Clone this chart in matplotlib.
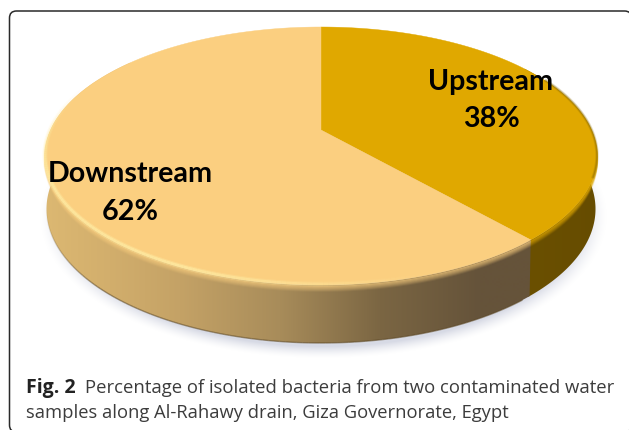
import numpy as np
import matplotlib
matplotlib.use('Agg')
from matplotlib import pyplot as plt
from matplotlib.colors import to_rgb
from matplotlib.patches import FancyBboxPatch, Polygon

labels = ['Upstream', 'Downstream']
shares = [38, 62]
top_colors = ['#E0A800', '#FBCF80']
caption_bold = 'Fig. 2'
caption_1 = 'Percentage of isolated bacteria from two contaminated water'
caption_2 = 'samples along Al-Rahawy drain, Giza Governorate, Egypt'

# horizontal shading of the side walls
up_side_x     = [525, 600]
up_side_col   = ['#6B5000', '#664C00']
down_side_x   = [45, 110, 180, 280, 380, 480, 535]
down_side_col = ['#DCB872', '#D2AE6C', '#C4A266', '#A88C5A', '#7B6643', '#65533A', '#66533A']

W, H   = 629, 430
cx     = 321
top    = dict(cy=156, rx=276, ry=129)
bottom = dict(cy=209, rx=274.5, ry=134)
d      = 0.15   # perspective on the rim
apex_y = 130


def rim(t, cy, rx, ry):
    # t in degrees, clockwise from 12 o'clock, on a circle seen in perspective
    t  = np.radians(t)
    X  = np.sin(t)
    Y  = np.cos(t)
    q  = 1 + d * Y
    return cx + rx * np.sqrt(1 - d**2) * X / q, cy - ry * (Y + d) / q


def rim_xy(t, e):
    return np.column_stack(rim(np.asarray(t, float), **e))


def side_wall(ax, t0, t1, xs, cols):
    t     = np.linspace(t0, t1, 300)
    poly  = np.vstack([rim_xy(t, top), rim_xy(t[::-1], bottom)])
    patch = Polygon(poly, closed=True, fc='none', ec='none', zorder=2)
    ax.add_patch(patch)
    rgb   = np.array([to_rgb(c) for c in cols])
    grid  = np.arange(xs[0], xs[-1] + 1)
    img   = np.column_stack([np.interp(grid, xs, rgb[:, i]) for i in range(3)])[None, :, :]
    im    = ax.imshow(img, extent=(xs[0], xs[-1], H, 0), aspect='auto', zorder=2,
                      interpolation='bilinear')
    im.set_clip_path(patch)


fig = plt.figure(figsize=(W / 100, H / 100), dpi=100)
ax  = fig.add_axes([0, 0, 1, 1])
ax.axis('off')

# frame round the figure and caption, it runs off the right and bottom edges
ax.add_patch(FancyBboxPatch((9.5, 11), 622, 421, boxstyle='round,pad=0,rounding_size=7',
                            fc='white', ec='#2a2a2a', lw=1.1, zorder=0, clip_on=True))

# soft shadow under the pie
yy, xx = np.mgrid[0:H, 0:W]
dist   = np.sqrt(((xx - cx - 2) / 284.0)**2 + ((yy - 216) / 142.0)**2)
alpha  = np.clip((1.0 - dist) / 0.085, 0, 1)**1.5 * 0.9
shadow = np.zeros((H, W, 4))
shadow[..., :3] = to_rgb('#D3D6E2')
shadow[..., 3]  = alpha
ax.imshow(shadow, extent=(0, W, H, 0), aspect='auto', zorder=1)

angles = np.cumsum([0] + shares) * 3.6

# side walls, the seam overlaps a little so no white shows through
side_wall(ax, angles[0] + 50, angles[1] + 0.4, up_side_x, up_side_col)
side_wall(ax, angles[1], angles[2] - 50, down_side_x, down_side_col)

# dark lower edge of the wall, only along the front
t = np.linspace(angles[1] + 2, 262, 120)
for a, b in zip(t[:-1], t[1:]):
    fade = float(np.clip((262 - (a + b) / 2) / 35, 0, 1))
    ax.plot(*rim_xy([a, b], bottom).T, color='#5a4520', lw=1.0, alpha=0.55 * fade, zorder=3,
            solid_capstyle='butt')

# rounded edge: top colour bleeding down onto the wall
for i, (a, b) in enumerate([(angles[0] + 60, angles[1]), (angles[1], angles[2] - 62)]):
    t = np.linspace(a, b, 300)
    for k in range(1, 7):
        e = dict(top, cy=top['cy'] + k)
        ax.plot(*rim_xy(t, e).T, color=top_colors[i], lw=1.4, alpha=0.55 * (1 - k / 7),
                zorder=3, solid_capstyle='butt')

# top faces
for i in range(2):
    t    = np.linspace(angles[i], angles[i + 1], 400)
    poly = np.vstack([[cx, apex_y], rim_xy(t, top)])
    ax.add_patch(Polygon(poly, closed=True, fc=top_colors[i], ec=top_colors[i], lw=0.3, zorder=4))

# pale highlight along the front rim, strongest on the left of centre
t = np.linspace(angles[1] + 25, 292, 140)
for a, b in zip(t[:-1], t[1:]):
    mid  = (a + b) / 2
    fade = float(np.clip((292 - mid) / 40, 0, 1) * np.clip((mid - 160) / 45, 0, 1))
    for lw, al in [(3.6, 0.3), (2.0, 0.6)]:
        ax.plot(*rim_xy([a, b], dict(top, cy=top['cy'] - 1)).T, color='#FFEEA6', lw=lw,
                alpha=al * fade, zorder=5, solid_capstyle='butt')

# shaded back edge on the right
t = np.linspace(62, 108, 80)
for lw, al in [(2.4, 0.22), (1.2, 0.4)]:
    ax.plot(*rim_xy(t, dict(top, cy=top['cy'] - 0.5)).T, color='#8A6A00', lw=lw, alpha=al, zorder=5)

# slice labels
lab_kw = dict(family='Lato', weight='bold', size=20.6, color='black',
              ha='center', va='center', zorder=6)
ax.text(491, 82, labels[0], **lab_kw)
ax.text(491, 119, f'{shares[0]}%', **lab_kw)
ax.text(130, 174, labels[1], **lab_kw)
ax.text(130, 212, f'{shares[1]}%', **lab_kw)

# caption
cap_kw = dict(family='Open Sans', va='baseline', zorder=6)
ax.text(26, 393, caption_bold, weight='bold', size=14, color='#222222', **cap_kw)
ax.text(85, 393, caption_1, size=13.3, color='#3c3c3c', **cap_kw)
ax.text(26, 418, caption_2, size=13.2, color='#3c3c3c', **cap_kw)

ax.set_xlim(0, W)
ax.set_ylim(H, 0)
fig.savefig('out.png', dpi=100)
